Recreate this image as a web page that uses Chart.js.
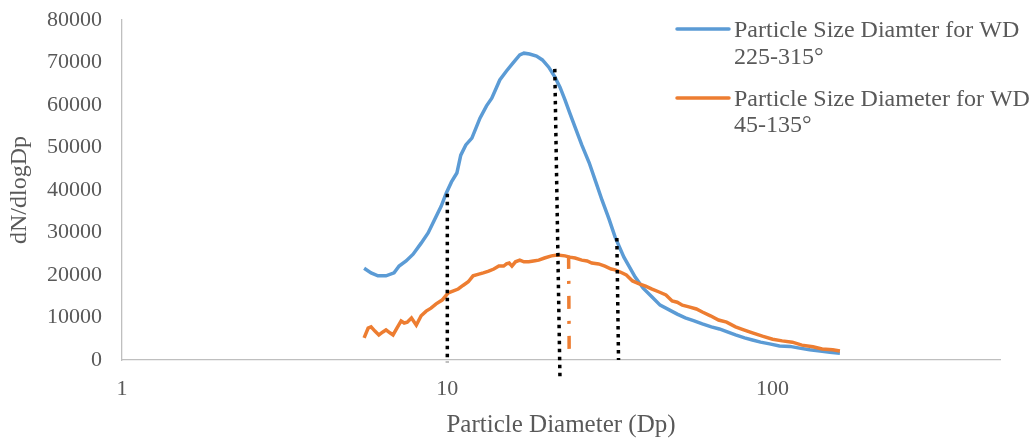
<!DOCTYPE html>
<html>
<head>
<meta charset="utf-8">
<script src="https://cdn.jsdelivr.net/npm/chart.js@4"></script>
<style>
  html, body { margin: 0; padding: 0; background: #fff; }
  #wrap { width: 1033px; height: 440px; }
</style>
</head>
<body>
<div id="wrap"><canvas id="grafico"></canvas></div>
<script>
// WD 225-315
const diamBlue = [5.55,5.83,6.12,6.48,6.86,7.11,7.47,7.85,8.31,8.73,9.12,9.58,9.93,10.3,10.7,11.0,11.4,11.9,12.6,13.2,13.7,14.5,15.2,16.0,16.7,17.2,17.9,18.8,19.6,20.5,21.4,22.2,23.0,23.8,24.7,25.9,27.3,28.6,29.9,31.4,32.8,34.9,37.8,40.0,42.6,45.1,48.1,50.9,53.9,57.4,60.8,64.8,68.6,72.6,76.9,82.0,86.7,91.8,97.9,105,113,121,130,140,150,161];
const concBlue = [21600,20500,19800,19800,20500,22100,23300,24900,27500,29900,32900,36200,39300,41900,44000,48200,50600,52200,56900,59800,61600,65900,68000,70100,71800,72200,72000,71500,70600,68900,66600,64200,61200,58100,54800,50600,46400,41900,37600,33200,28900,24200,19500,16900,14800,12900,11800,10800,9900,9200,8500,7800,7300,6600,5900,5200,4700,4200,3800,3300,3200,2800,2400,2100,1800,1600];

// WD 45-135
const diamOrange = [5.55,5.71,5.83,5.99,6.16,6.34,6.48,6.66,6.81,7.00,7.21,7.37,7.53,7.76,8.03,8.31,8.61,8.91,9.24,9.64,10.07,10.4,10.8,11.2,11.6,12.0,12.5,12.9,13.4,13.9,14.4,14.9,15.2,15.5,15.8,16.2,16.7,17.2,17.8,18.4,19.1,19.9,20.9,21.8,23.0,23.8,24.7,25.9,26.9,27.8,29.2,30.5,31.9,32.8,34.0,35.5,37.1,38.9,40.7,42.6,44.8,47.0,49.1,50.9,52.8,55.3,58.3,60.8,64.4,68.2,72.2,76.9,81.5,86.7,93.0,100,107,115,123,133,142,153,161];
const concOrange = [5200,7500,7800,6800,5900,6600,7100,6400,5900,7500,9200,8700,8900,9900,8200,10400,11500,12200,13200,14100,15800,16200,16700,17600,18400,19800,20200,20500,20900,21400,22100,22100,22600,22800,22100,23100,23500,23100,23100,23300,23500,24000,24500,24700,24500,24200,24000,23500,23300,22800,22600,22100,21400,21200,20700,20000,18600,17900,17400,16700,16000,15300,13900,13600,12900,12500,12000,11300,10400,9400,8900,7800,7100,6400,5600,4900,4500,4200,3500,3100,2600,2400,2100];

// marker lines: [x top, y top, x bottom, y bottom]
const markerBlack = [
    [10, 39100, 10, -500],
    [21.4, 68500, 22.2, -4500],
    [33.2, 28700, 33.6, 0]
];
const markerOrange = [23.6, 24500, 23.7, -200];

const xTicks = [1, 10, 100];
const seriesNames = [
    ['Particle Size Diamter for WD', '225-315°'],
    ['Particle Size Diameter for WD', '45-135°']
];

const fonte = '"Liberation Serif", "Times New Roman", serif';
const cinza = '#595959';

const pts = (xs, ys) => xs.map((v, i) => ({ x: v, y: ys[i] }));

const datasets = [
    {
        label: seriesNames[0].join(' '),
        data: pts(diamBlue, concBlue),
        borderColor: '#5B9BD5',
        borderWidth: 3.5,
        order: 3
    },
    {
        label: seriesNames[1].join(' '),
        data: pts(diamOrange, concOrange),
        borderColor: '#ED7D31',
        borderWidth: 3.5,
        order: 2
    }
];

markerBlack.forEach(m => {
    datasets.push({
        label: 'marker',
        data: [{ x: m[0], y: m[1] }, { x: m[2], y: m[3] }],
        borderColor: '#000000',
        borderWidth: 3.5,
        borderDash: [3.5, 4.5],
        clip: false,
        order: 1
    });
});
datasets.push({
    label: 'marker',
    data: [{ x: markerOrange[0], y: markerOrange[1] }, { x: markerOrange[2], y: markerOrange[3] }],
    borderColor: '#ED7D31',
    borderWidth: 3.5,
    borderDash: [13, 12, 3, 12],
    clip: false,
    order: 1
});

// legend drawn by hand so the labels can wrap on two lines
const legendaManual = {
    id: 'legendaManual',
    afterDraw(chart) {
        const ctx = chart.ctx;
        const linhas = [[29, 36.7, 64], [98, 106, 132]];
        ctx.save();
        ctx.font = '24px ' + fonte;
        ctx.fillStyle = cinza;
        ctx.textBaseline = 'alphabetic';
        ctx.textAlign = 'left';
        [0, 1].forEach(i => {
            const pos = linhas[i];
            ctx.strokeStyle = chart.data.datasets[i].borderColor;
            ctx.lineWidth = 3.5;
            ctx.lineCap = 'round';
            ctx.beginPath();
            ctx.moveTo(677, pos[0]);
            ctx.lineTo(729, pos[0]);
            ctx.stroke();
            ctx.fillText(seriesNames[i][0], 734, pos[1]);
            ctx.fillText(seriesNames[i][1], 734, pos[2]);
        });
        ctx.restore();
    }
};

const ctx = document.getElementById('grafico').getContext('2d');
const grafico = new Chart(ctx, {
    type: 'scatter',
    data: { datasets: datasets },
    options: {
        responsive: true,
        maintainAspectRatio: false,
        animation: false,
        showLine: true,
        elements: {
            point: { radius: 0, hoverRadius: 0 },
            line: { tension: 0, fill: false }
        },
        layout: { padding: { left: 0, right: 33, top: 20, bottom: 0 } },
        plugins: {
            legend: { display: false },
            tooltip: { enabled: false }
        },
        scales: {
            x: {
                type: 'logarithmic',
                min: 1,
                max: 500,
                afterBuildTicks: s => { s.ticks = xTicks.map(v => ({ value: v })); },
                afterFit: s => { s.height = 80; },
                grid: { display: false, drawTicks: false },
                border: { display: true, color: '#BFBFBF', width: 1.3 },
                ticks: {
                    autoSkip: false,
                    maxRotation: 0,
                    padding: 16,
                    color: cinza,
                    font: { family: fonte, size: 22 },
                    callback: v => String(v)
                },
                title: {
                    display: true,
                    text: 'Particle Diameter (Dp)',
                    color: cinza,
                    font: { family: fonte, size: 25 },
                    padding: { top: 0, bottom: 0 }
                }
            },
            y: {
                type: 'linear',
                min: 0,
                max: 80000,
                afterFit: s => { s.width = 122; s.paddingTop = 12; s.paddingBottom = 0; },
                grid: { display: false, drawTicks: false },
                border: { display: true, color: '#BFBFBF', width: 1.3 },
                ticks: {
                    stepSize: 10000,
                    padding: 20,
                    color: cinza,
                    font: { family: fonte, size: 22 },
                    callback: v => String(v)
                },
                title: {
                    display: true,
                    text: 'dN/dlogDp',
                    color: cinza,
                    font: { family: fonte, size: 24 },
                    padding: { top: 5, bottom: 0 }
                }
            }
        }
    },
    plugins: [legendaManual]
});
</script>
</body>
</html>
